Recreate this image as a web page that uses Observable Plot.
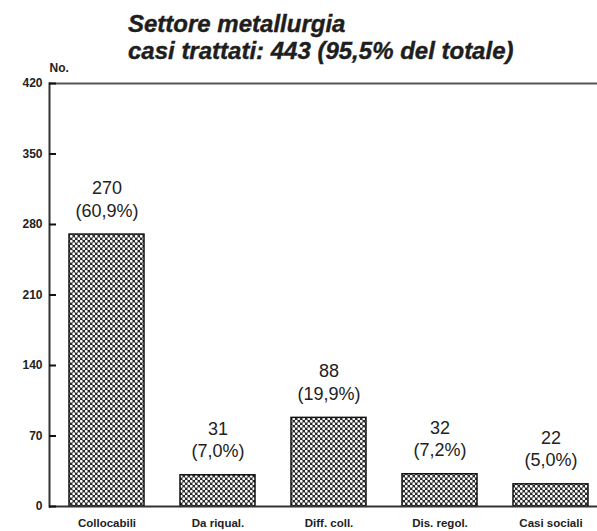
<!DOCTYPE html>
<html>
<head>
<meta charset="utf-8">
<script src="https://cdn.jsdelivr.net/npm/d3@7"></script>
<script src="https://cdn.jsdelivr.net/npm/@observablehq/plot@0.6"></script>
<style>
  html, body { margin: 0; padding: 0; background: #fff; }
  #chart { width: 597px; height: 531px; overflow: hidden; }
  .title {
    font-family: "Liberation Sans", Arial, sans-serif;
    font-weight: bold; font-style: italic;
    font-size: 24px; line-height: 27px; color: #1e1e1e;
    padding: 10px 0 0 128px; height: 50px; white-space: nowrap;
    -webkit-text-stroke: 0.4px #1e1e1e;
  }
</style>
</head>
<body>
<div id="chart">
  <div class="title">Settore metallurgia<br>casi trattati: 443 (95,5% del totale)</div>
</div>
<script>
// Cases handled in the metallurgy sector, by outcome
const categories = ["Collocabili", "Da riqual.", "Diff. coll.", "Dis. regol.", "Casi sociali"];
const counts = [270, 31, 88, 32, 22];
const shares = ["60,9%", "7,0%", "19,9%", "7,2%", "5,0%"];
const yTicks = [0, 70, 140, 210, 280, 350, 420];

const data = categories.map((c, i) => ({category: c, count: counts[i], share: shares[i]}));

const ink = "#222";

const plot = Plot.plot({
  width: 597,
  height: 471,
  marginLeft: 49,
  marginRight: 0,
  marginTop: 23,
  marginBottom: 25,
  style: {fontFamily: "'Liberation Sans', Arial, sans-serif", color: ink, background: "#fff"},
  x: {domain: categories, paddingInner: 0.32, paddingOuter: 0.117, align: 0.69, label: null},
  y: {domain: [0, 420], label: null},
  marks: [
    Plot.barY(data, {x: "category", y: "count", fill: "url(#dots)", stroke: "#111", strokeWidth: 1.5}),
    Plot.text(data, {x: "category", y: "count", text: d => `${d.count}\n(${d.share})`,
      lineAnchor: "bottom", dy: -18, fontSize: 18, lineHeight: 1.25, fill: ink}),
    Plot.ruleY([420], {stroke: "#555", strokeWidth: 2}),
    Plot.ruleY([0], {stroke: "#333", strokeWidth: 2}),
    Plot.frame({anchor: "left", stroke: "#333", strokeWidth: 2}),
    // tick labels and the "No." caption
    Plot.axisY({ticks: yTicks, tickSize: 0, tickPadding: 7, fontSize: 12, fontWeight: "bold",
      letterSpacing: 0.6, label: "No.", labelAnchor: "top", labelArrow: "none", labelOffset: 0}),
    // tick marks pointing into the plot area
    Plot.axisY({ticks: yTicks, tickSize: -7, fill: "none", stroke: "#111", strokeWidth: 2, label: null}),
    Plot.axisX({tickSize: 0, tickPadding: 12, fontSize: 11.5, fontWeight: "bold", label: null})
  ]
});

// checkered dot fill used by the bars
const ns = "http://www.w3.org/2000/svg";
const defs = document.createElementNS(ns, "defs");
const pat = document.createElementNS(ns, "pattern");
pat.setAttribute("id", "dots");
pat.setAttribute("patternUnits", "userSpaceOnUse");
pat.setAttribute("width", 5);
pat.setAttribute("height", 5);
const bg = document.createElementNS(ns, "rect");
bg.setAttribute("width", 5); bg.setAttribute("height", 5); bg.setAttribute("fill", "#2a2a2a");
pat.appendChild(bg);
for (const [cx, cy] of [[1.25, 1.25], [3.75, 3.75]]) {
  const c = document.createElementNS(ns, "circle");
  c.setAttribute("cx", cx); c.setAttribute("cy", cy); c.setAttribute("r", 1.4);
  c.setAttribute("fill", "#fff");
  pat.appendChild(c);
}
defs.appendChild(pat);
plot.insertBefore(defs, plot.firstChild);

document.getElementById("chart").appendChild(plot);
</script>
</body>
</html>
